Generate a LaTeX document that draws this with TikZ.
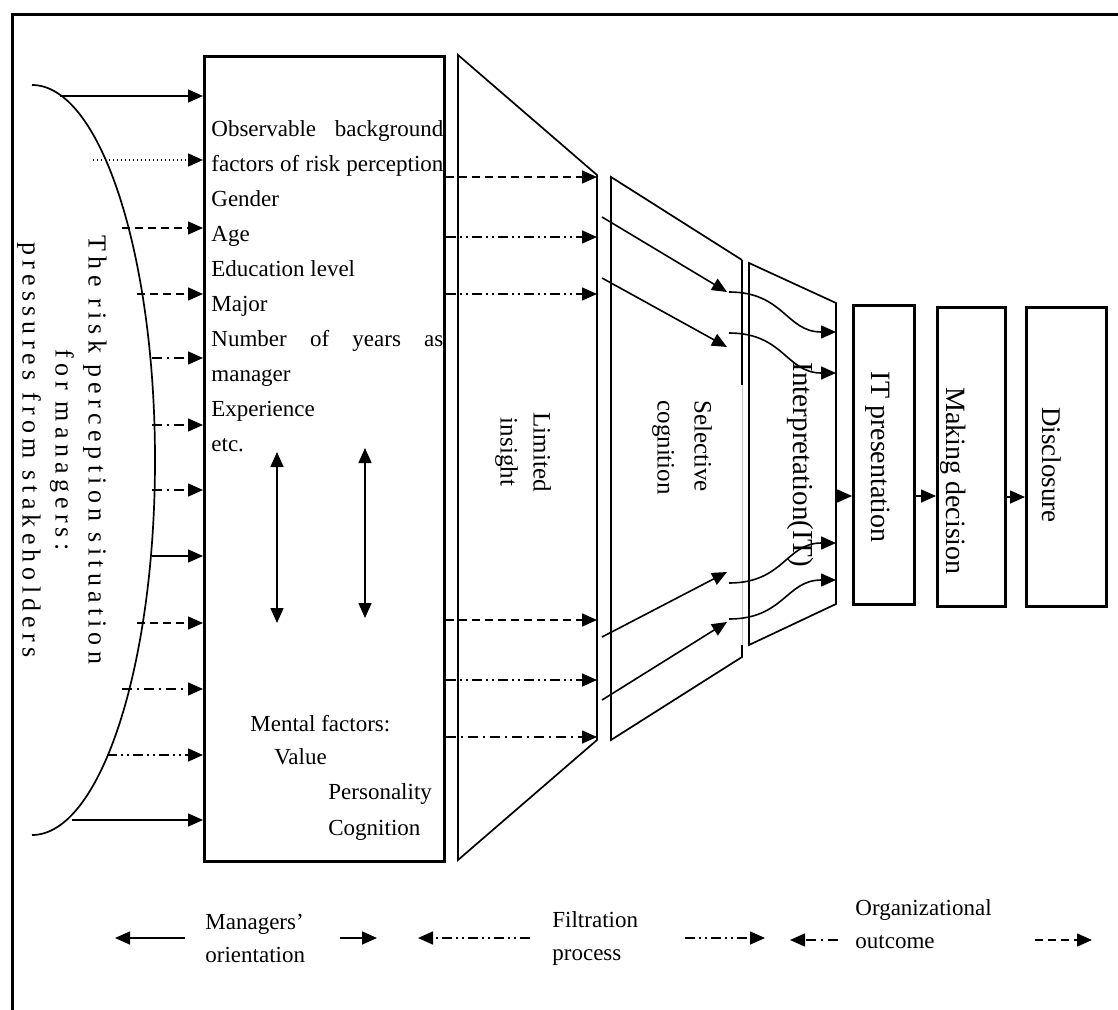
\documentclass[tikz,border=0pt]{standalone}
\usepackage{fontspec}
\setmainfont{Liberation Serif}
\usetikzlibrary{arrows.meta,positioning}

\newcommand{\jline}[1]{\makebox[116pt][s]{#1}}

\tikzset{
  arr/.style={-{Triangle[length=7.5pt,width=6.5pt]}, line width=0.8pt},
  darr/.style={{Triangle[length=7.5pt,width=6.5pt]}-{Triangle[length=7.5pt,width=6.5pt]}, line width=0.8pt},
  thin line/.style={line width=0.85pt},
  boxframe/.style={draw, line width=1.6pt, inner sep=0pt, anchor=north west},
  dsh/.style={dash pattern=on 4pt off 2.5pt},
  dotted line/.style={dash pattern=on 0.7pt off 1.3pt},
  dshdot/.style={dash pattern=on 5pt off 2.5pt on 1pt off 2.5pt},
  dshdotdot/.style={dash pattern=on 5pt off 2pt on 1pt off 2pt on 1pt off 2pt},
  boxtxt/.style={anchor=base west, inner sep=0pt, font=\fontsize{11.5}{17}\selectfont},
  vtext/.style={rotate=-90, inner sep=0pt, font=\fontsize{12.5}{16.5}\selectfont},
  legtxt/.style={anchor=west, align=left, inner sep=0pt, font=\fontsize{11.5}{16.5}\selectfont},
}

\begin{document}
\begin{tikzpicture}[x=0.5pt, y=-0.5pt]
    \useasboundingbox (0,0) rectangle (1118,1010);

    % Frame
    \draw[line width=1.5pt] (12,1010) -- (12,15) -- (1118,15);

    % Pressures from stakeholders
    \draw[thin line] (32,85) .. controls (100,85) and (155,253) .. (155,460)
        .. controls (155,667) and (100,835) .. (32,835);
    \node[vtext, align=center, font=\fontsize{13}{16.5}\selectfont\addfontfeatures{LetterSpace=20}] (press) at (62,450)
        {The risk perception situation\\for managers:\\pressures from stakeholders};

    % Managers' orientation box
    \node[boxframe, minimum width=120pt, minimum height=402.5pt] (mgr) at (203,55) {};
    \foreach \txt [count=\i from 0] in {\jline{Observable background}, \jline{factors of risk perception},
        Gender, Age, Education level, Major, \jline{Number of years as}, manager, Experience, etc.}
      \node[boxtxt] (bg\i) at (211,137+34.95*\i) {\txt};
    \node[boxtxt] (mf) at (250,731) {Mental factors:};
    \node[boxtxt] (mfv) at (274,764) {Value};
    \node[boxtxt] (mfp) at (328,799) {Personality};
    \node[boxtxt] (mfc) at (328,835) {Cognition};
    \coordinate (da1) at (277,452);
    \coordinate (db1) at (277,623);
    \coordinate (da2) at (365,448);
    \coordinate (db2) at (365,618);
    \draw[darr] (da1) -- (db1);
    \draw[darr] (da2) -- (db2);

    % Arrows from the stakeholders
    \foreach \y/\x/\sty [count=\i] in {96/60/solid, 160/93/dotted line, 228/122/dsh, 294/137/dsh,
        358/152/dshdot, 425/152/dshdot, 490/152/dshdot, 556/152/solid, 623/137/dsh,
        689/122/dshdot, 755/107/dshdotdot, 820/72/solid}
      \draw[arr, \sty] (\x,\y) coordinate (src\i) -- (src\i -| mgr.west);

    % Limited insight
    \coordinate (li-tl) at (458,55);
    \coordinate (li-tr) at (597,175);
    \coordinate (li-br) at (597,740);
    \coordinate (li-bl) at (458,860);
    \draw[thin line] (li-tl) -- (li-tr) -- (li-br) -- (li-bl) -- cycle;
    \node[vtext, align=center] (lim) at (523,452) {Limited\\insight};
    \foreach \y/\sty in {177/dsh, 237/dshdotdot, 294/dshdotdot, 620/dsh, 680/dshdotdot, 737/dshdot}
      \draw[arr, \sty] (mgr.east |- 0,\y) -- (li-tr |- 0,\y);

    % Selective cognition
    \coordinate (sc-tl) at (611,177);
    \coordinate (sc-tr) at (742,260);
    \coordinate (sc-br) at (742,657);
    \coordinate (sc-bl) at (611,740);
    \coordinate (sc-m1) at (742,385);
    \coordinate (sc-m2) at (742,645);
    \draw[thin line] (sc-m2) -- (sc-br) -- (sc-bl) -- (sc-tl) -- (sc-tr);
    \draw[line width=1.2pt] (sc-tr) -- (sc-m1);
    \draw[gray!45, line width=0.5pt] (sc-m1) -- (sc-m2);
    \node[vtext, align=left, anchor=west, font=\fontsize{12.5}{18.5}\selectfont] (sel) at (682,400) {Selective\\cognition};

    % Interpretation
    \coordinate (it-tl) at (749,263);
    \coordinate (it-tr) at (836,303);
    \coordinate (it-br) at (836,604);
    \coordinate (it-bl) at (749,645);
    \draw[thin line] (it-tl) -- (it-tr) -- (it-br) -- (it-bl) -- cycle;
    \node[vtext, font=\fontsize{14.5}{17}\selectfont] (interp) at (800,465) {Interpretation(IT)};

    % Filtering arrows
    \foreach \i/\ya/\yb in {1/217/292, 2/278/347, 3/637/572, 4/700/622} {
      \coordinate (sa\i) at (602,\ya);
      \coordinate (sb\i) at (727,\yb);
      \draw[arr] (sa\i) -- (sb\i);
    }
    \foreach \i/\ya/\yb in {1/292/332, 2/333/373, 3/583/543, 4/619/580} {
      \coordinate (ca\i) at (729,\ya);
      \coordinate (cb\i) at (836,\yb);
      \draw[arr] (ca\i) .. controls +(55,0) and +(-50,0) .. (cb\i);
    }

    % Organizational outcome boxes
    \node[boxframe, minimum width=30.5pt, minimum height=149.5pt] (itp) at (852,304) {};
    \node[boxframe, minimum width=34pt, minimum height=149.5pt] (mkd) at (936,306) {};
    \node[boxframe, minimum width=40pt, minimum height=149.5pt] (dsc) at (1025,306) {};
    \node[vtext, font=\fontsize{14}{17}\selectfont] (itp-t) at (878,457) {IT presentation};
    \node[vtext, font=\fontsize{14}{17}\selectfont] (mkd-t) at (953,481) {Making decision};
    \node[vtext, font=\fontsize{13.5}{17}\selectfont] (dsc-t) at (1052,465) {Disclosure};
    \draw[arr] (it-tr |- 0,496) -- (itp.west |- 0,496);
    \draw[arr] (itp.east |- 0,496) -- (mkd.west |- 0,496);
    \draw[arr] (mkd.east |- 0,497) -- (dsc.west |- 0,497);

    % Legend
    \node[legtxt] (mo) at (205,938) {Managers’\\orientation};
    \node[legtxt] (fp) at (552,938) {Filtration\\process};
    \node[legtxt] (org) at (855,924) {Organizational\\outcome};
    \draw[arr] ([xshift=-10pt]mo.west) -- ++(-70,0);
    \draw[arr] ([xshift=67.5pt]mo.west) -- ++(37,0);
    \draw[arr, dshdotdot] ([xshift=-11pt]fp.west) -- ++(-112,0);
    \draw[arr, dshdotdot] ([xshift=66.5pt]fp.west) -- ++(80,0);
    \draw[arr, dshdot] ([xshift=-8.5pt, yshift=-8pt]org.west) -- ++(-48,0);
    \draw[arr, dsh] ([xshift=90pt, yshift=-8pt]org.west) -- ++(57,0);
\end{tikzpicture}
\end{document}
